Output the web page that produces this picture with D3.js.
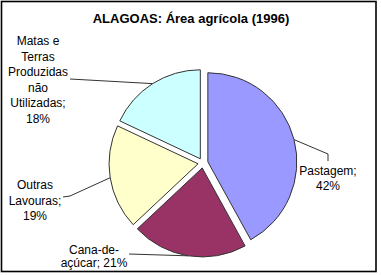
<!DOCTYPE html>
<html>
<head>
<meta charset="utf-8">
<script src="https://cdn.jsdelivr.net/npm/d3@7"></script>
<style>
  html, body { margin: 0; padding: 0; background: #fff; }
  svg { display: block; font-family: Arial, "Liberation Sans", sans-serif; }
</style>
</head>
<body>
<svg id="chart" width="381" height="275"></svg>
<script>
// data
const categories = ["Pastagem", "Cana-de-açúcar", "Outras Lavouras", "Matas e Terras Produzidas não Utilizadas"];
const shares = [42, 21, 19, 18];
const colors = ["#9999FF", "#993366", "#FFFFCC", "#CCFFFF"];
// label text lines as shown on the chart
const labelLines = [
    ["Pastagem;", "42%"],
    ["Cana-de-", "açúcar; 21%"],
    ["Outras", "Lavouras;", "19%"],
    ["Matas e", "Terras", "Produzidas", "não", "Utilizadas;", "18%"]
];

// layout: label centre x / first baseline / line step, and leader elbow points
const labelPos = [
    { x: 328, y: 175, step: 15, elbow: [[328, 154], [328, 161]] },
    { x: 94, y: 254, step: 13, elbow: [[129, 254]] },
    { x: 35, y: 189, step: 15.6, elbow: [[70, 196], [63, 197]] },
    { x: 38, y: 45, step: 15.6, elbow: [[70, 79]] }
];

const svg = d3.select("#chart");
const cx = 203, cy = 163, radius = 89, explode = 5;

svg.append("rect")
    .attr("x", 1.5).attr("y", 1.5)
    .attr("width", 374.5).attr("height", 270)
    .attr("fill", "#fff")
    .attr("stroke", "#000")
    .attr("stroke-width", 1.6);

svg.append("text")
    .attr("x", 191).attr("y", 23)
    .attr("text-anchor", "middle")
    .style("font-size", "13px")
    .style("font-weight", "bold")
    .text("ALAGOAS: Área agrícola (1996)");

const pie = d3.pie().sort(null).value(d => d.value);
const arcs = pie(categories.map((c, i) => ({ name: c, value: shares[i], i })));
const arc = d3.arc().innerRadius(0).outerRadius(radius);

const g = svg.append("g").attr("transform", `translate(${cx},${cy})`);

function dir(a) { return [Math.sin(a), -Math.cos(a)]; }

g.selectAll("path.slice")
    .data(arcs)
    .enter().append("path")
    .attr("class", "slice")
    .attr("d", arc)
    .attr("transform", d => {
        const [dx, dy] = dir((d.startAngle + d.endAngle) / 2);
        return `translate(${dx * explode},${dy * explode})`;
    })
    .attr("fill", d => colors[d.data.i])
    .attr("stroke", "#333")
    .attr("stroke-width", 1);

// leader lines from slice edge midpoint to label
arcs.forEach(d => {
    const mid = (d.startAngle + d.endAngle) / 2;
    const [dx, dy] = dir(mid);
    const p = [cx + dx * (explode + radius), cy + dy * (explode + radius)];
    const pts = [p].concat(labelPos[d.data.i].elbow);
    svg.append("path")
        .attr("d", d3.line()(pts))
        .attr("fill", "none")
        .attr("stroke", "#333")
        .attr("stroke-width", 1);
});

labelLines.forEach((lines, i) => {
    const lp = labelPos[i];
    const t = svg.append("text")
        .attr("text-anchor", "middle")
        .style("font-size", "12px")
        .attr("fill", "#000");
    lines.forEach((s, k) => {
        t.append("tspan")
            .attr("x", lp.x)
            .attr("y", lp.y + k * lp.step)
            .text(s);
    });
});
</script>
</body>
</html>
